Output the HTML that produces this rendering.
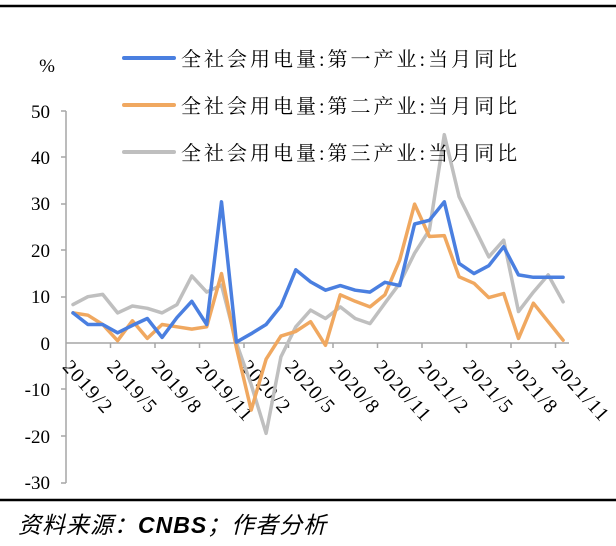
<!DOCTYPE html>
<html><head><meta charset="utf-8"><style>
html,body{margin:0;padding:0;background:#fff;}
svg{display:block;}
</style></head><body>
<svg width="616" height="546" viewBox="0 0 616 546" xmlns="http://www.w3.org/2000/svg">
<line x1="0" y1="6" x2="616" y2="6" stroke="#000" stroke-width="2.5"/>
<line x1="0" y1="500" x2="616" y2="500" stroke="#000" stroke-width="2.5"/>
<g font-family="Liberation Serif, serif" font-size="19" fill="#000" text-anchor="end">
<text x="50" y="118">50</text>
<text x="50" y="164">40</text>
<text x="50" y="210">30</text>
<text x="50" y="257">20</text>
<text x="50" y="303">10</text>
<text x="50" y="350">0</text>
<text x="50" y="396">-10</text>
<text x="50" y="443">-20</text>
<text x="50" y="489">-30</text>
<text x="55" y="72">%</text>
</g>
<g stroke="#a6a6a6" stroke-width="1.5" fill="none">
<line x1="66" y1="111" x2="66" y2="483"/>
<line x1="61" y1="111" x2="66" y2="111"/><line x1="61" y1="157" x2="66" y2="157"/><line x1="61" y1="204" x2="66" y2="204"/><line x1="61" y1="250" x2="66" y2="250"/><line x1="61" y1="297" x2="66" y2="297"/><line x1="61" y1="436" x2="66" y2="436"/><line x1="61" y1="389" x2="66" y2="389"/><line x1="61" y1="483" x2="66" y2="483"/>
<line x1="66" y1="343" x2="569" y2="343"/>
<line x1="110.5" y1="343" x2="110.5" y2="348"/><line x1="155" y1="343" x2="155" y2="348"/><line x1="199.5" y1="343" x2="199.5" y2="348"/><line x1="244" y1="343" x2="244" y2="348"/><line x1="288.5" y1="343" x2="288.5" y2="348"/><line x1="333" y1="343" x2="333" y2="348"/><line x1="377.5" y1="343" x2="377.5" y2="348"/><line x1="422" y1="343" x2="422" y2="348"/><line x1="466.5" y1="343" x2="466.5" y2="348"/><line x1="511" y1="343" x2="511" y2="348"/><line x1="555.5" y1="343" x2="555.5" y2="348"/>
</g>
<g font-family="Liberation Serif, serif" font-size="20" fill="#000" letter-spacing="1.5">
<text transform="translate(72,358) rotate(48)" dy="14">2019/2</text>
<text transform="translate(116.5,358) rotate(48)" dy="14">2019/5</text>
<text transform="translate(161,358) rotate(48)" dy="14">2019/8</text>
<text transform="translate(205.5,358) rotate(48)" dy="14">2019/11</text>
<text transform="translate(250,358) rotate(48)" dy="14">2020/2</text>
<text transform="translate(294.5,358) rotate(48)" dy="14">2020/5</text>
<text transform="translate(339,358) rotate(48)" dy="14">2020/8</text>
<text transform="translate(383.5,358) rotate(48)" dy="14">2020/11</text>
<text transform="translate(428,358) rotate(48)" dy="14">2021/2</text>
<text transform="translate(472.5,358) rotate(48)" dy="14">2021/5</text>
<text transform="translate(517,358) rotate(48)" dy="14">2021/8</text>
<text transform="translate(561.5,358) rotate(48)" dy="14">2021/11</text>
</g>
<g fill="none" stroke-width="3.5" stroke-linejoin="round" stroke-linecap="round">
<polyline stroke="#bfbfbf" points="73,304.6 87.9,296.7 102.7,294.4 117.6,312.9 132.4,306 147.3,308.3 162.1,312.9 177,304.6 191.8,275.9 206.7,292.1 221.5,285.1 236.4,343 251.2,384.7 266.1,433.3 280.9,356.9 295.8,326.8 310.6,310.1 325.5,318.5 340.3,306.9 355.2,318.5 370,323.6 384.9,303.2 399.7,283.3 414.6,253.2 429.4,230 444.3,134.7 459.1,196.7 474,226.8 488.8,256.9 503.7,240.2 518.5,311.5 533.4,292.1 548.2,274.9 563.1,301.8"/>
<polyline stroke="#f0a860" points="73,312.9 87.9,315.2 102.7,324.5 117.6,340.7 132.4,320.8 147.3,338.4 162.1,324.5 177,326.8 191.8,329.1 206.7,326.8 221.5,273.6 236.4,347.6 251.2,410.1 266.1,359.2 280.9,336.1 295.8,331.4 310.6,321.7 325.5,345.3 340.3,294.8 355.2,301.3 370,306.9 384.9,294.8 399.7,260.1 414.6,204.1 429.4,236.5 444.3,235.6 459.1,276.8 474,283.3 488.8,297.6 503.7,293.5 518.5,338.4 533.4,303.2 548.2,321.7 563.1,340.2"/>
<polyline stroke="#4a7fe0" points="73,312.9 87.9,324.5 102.7,324.5 117.6,332.8 132.4,325.4 147.3,318.5 162.1,337.4 177,317.5 191.8,301.3 206.7,324.5 221.5,201.8 236.4,342.1 251.2,333.7 266.1,324.5 280.9,306 295.8,269.8 310.6,281.9 325.5,290.2 340.3,285.6 355.2,290.2 370,292.1 384.9,282.3 399.7,285.6 414.6,224 429.4,220.3 444.3,201.8 459.1,263.4 474,273.6 488.8,265.7 503.7,246.7 518.5,274.9 533.4,277.3 548.2,277.3 563.1,277.3"/>
</g>
<g stroke-width="4" stroke-linecap="round">
<line x1="124" y1="58" x2="174" y2="58" stroke="#4a7fe0"/>
<line x1="124" y1="105" x2="174" y2="105" stroke="#f0a860"/>
<line x1="124" y1="152" x2="174" y2="152" stroke="#bfbfbf"/>
</g>
<g font-family="Liberation Serif, 'Noto Serif CJK SC', serif" font-size="20" fill="#000" letter-spacing="3">
<text x="181" y="66">全社会用电量:第一产业:当月同比</text>
<text x="181" y="113">全社会用电量:第二产业:当月同比</text>
<text x="181" y="160">全社会用电量:第三产业:当月同比</text>
</g>
<text x="18" y="533" font-family="Liberation Sans, 'Noto Sans CJK SC', sans-serif" font-size="23" font-style="italic" fill="#000" letter-spacing="1">资料来源：<tspan font-weight="bold">CNBS</tspan>；作者分析</text>
</svg>
</body></html>
